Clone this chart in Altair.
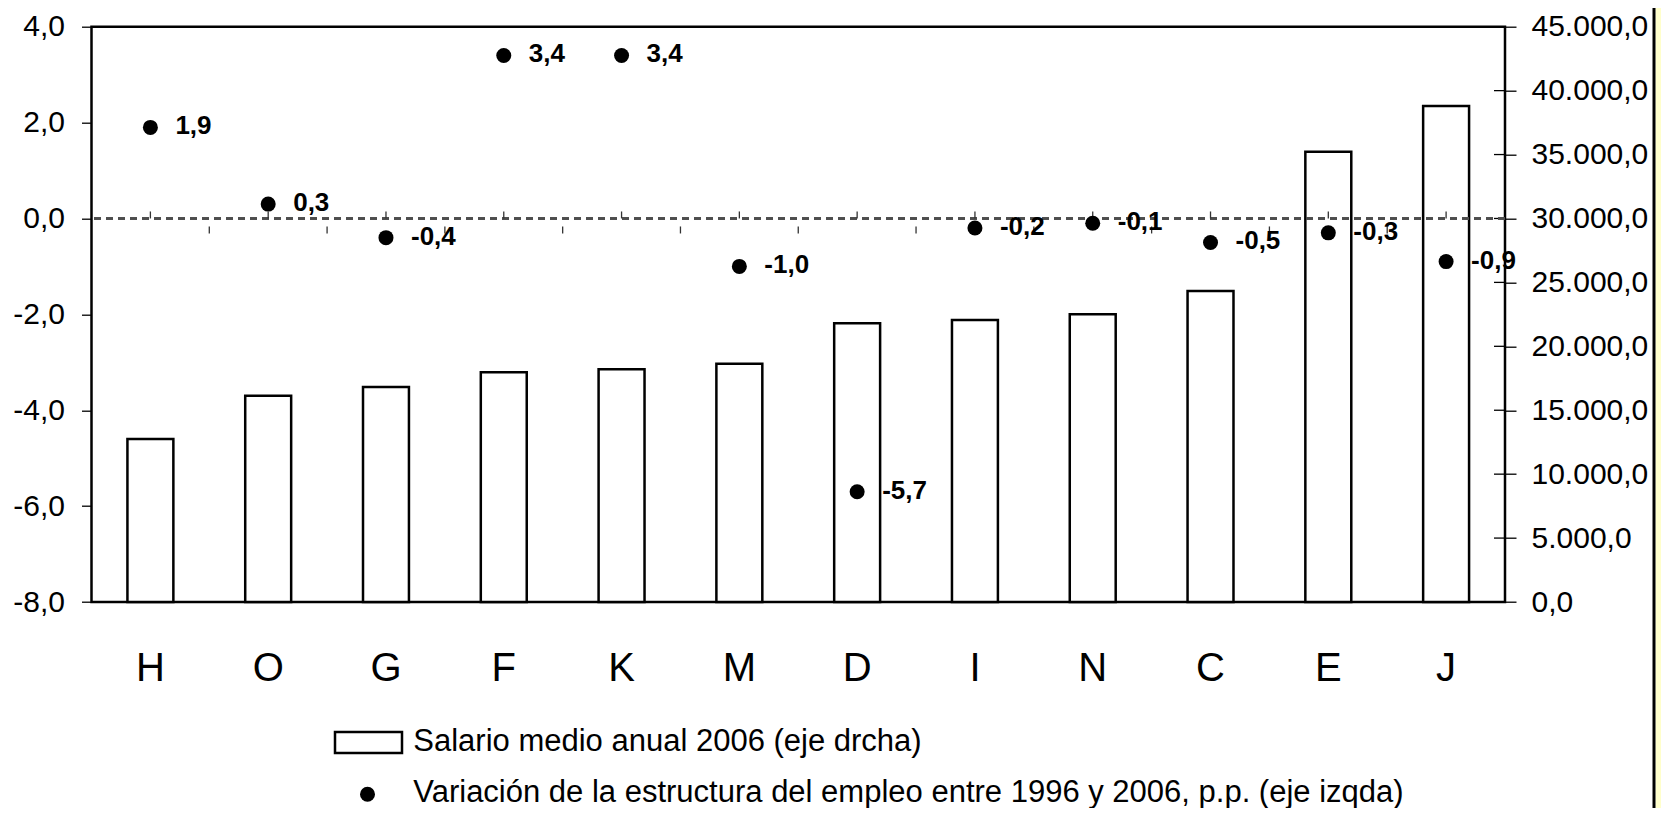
import altair as alt
import pandas as pd

# ---- data ----
categories = ["H", "O", "G", "F", "K", "M", "D", "I", "N", "C", "E", "J"]
salario = [12750, 16140, 16820, 17970, 18200, 18640, 21800, 22060, 22500, 24330, 35220, 38800]
variacion = [1.9, 0.3, -0.4, 3.4, 3.4, -1.0, -5.7, -0.2, -0.1, -0.5, -0.3, -0.9]
left_ticks = [-8, -6, -4, -2, 0, 2, 4]
right_ticks = [0, 5000, 10000, 15000, 20000, 25000, 30000, 35000, 40000, 45000]
legend_labels = [
    "Salario medio anual 2006 (eje drcha)",
    "Variación de la estructura del empleo entre 1996 y 2006, p.p. (eje izqda)",
]

FONT = "Liberation Sans"
W, H = 1413.5, 575.3
PAD_L, PAD_T, PAD_R, PAD_B = 83.5, 18.7, 156, 206

df = pd.DataFrame({"cat": categories, "salario": salario, "variacion": variacion, "z": [0] * len(categories)})
bdf = pd.DataFrame({"cat": categories[1:], "z": [0] * (len(categories) - 1)})

x_axis = alt.Axis(title=None, labelFontSize=40, labelFont=FONT, labelColor="black", labelAngle=0,
                  ticks=False, domain=False, labelPadding=46, labelBaseline="top", grid=False)
x_scale = alt.Scale(paddingInner=0, paddingOuter=0)
x_enc = alt.X("cat:N", sort=categories, scale=x_scale, axis=x_axis)

right_scale = alt.Scale(domain=[0, 45000], nice=False, zero=True)
right_axis = alt.Axis(orient="right", values=right_ticks, format=",.1f", title=None, tickSize=11,
                      labelPadding=15, labelFontSize=30, labelFont=FONT, labelColor="black",
                      grid=False, domain=False, tickColor="black", tickWidth=1.3)
left_scale = alt.Scale(domain=[-8, 4], nice=False, zero=False)
left_axis = alt.Axis(orient="left", values=left_ticks, format=".1f", title=None, tickSize=10,
                     labelPadding=17, labelFontSize=30, labelFont=FONT, labelColor="black",
                     grid=False, domain=False, tickColor="black", tickWidth=1.3)

bars = alt.Chart(df).mark_bar(width=alt.RelativeBandSize(band=0.39), fill="white", stroke="black",
                              strokeWidth=2.5).encode(
    x=x_enc,
    y=alt.Y("salario:Q", scale=right_scale, axis=right_axis),
)
rticks = alt.Chart(pd.DataFrame({"v": right_ticks})).mark_rule(color="black", strokeWidth=1.3).encode(
    y=alt.Y("v:Q", scale=right_scale, axis=right_axis),
    x=alt.value(W - 11), x2=alt.value(W),
)
right_group = alt.layer(bars, rticks)

zero = alt.Chart(df).mark_rule(stroke="#4d4d4d", strokeWidth=1.5, strokeDash=[7, 5]).encode(
    y=alt.Y("z:Q", scale=left_scale, axis=left_axis),
)
cticks = alt.Chart(df).mark_rule(color="#333333", strokeWidth=1.3, y2Offset=-7).encode(
    x=x_enc,
    y=alt.Y("z:Q", scale=left_scale, axis=left_axis), y2="z:Q",
)
bticks = alt.Chart(bdf).mark_rule(color="#333333", strokeWidth=1.3, yOffset=8, y2Offset=15).encode(
    x=alt.X("cat:N", sort=categories, scale=x_scale, axis=x_axis, bandPosition=0),
    y=alt.Y("z:Q", scale=left_scale, axis=left_axis), y2="z:Q",
)
dots = alt.Chart(df).mark_circle(size=225, color="black", opacity=1).encode(
    x=x_enc,
    y=alt.Y("variacion:Q", scale=left_scale, axis=left_axis),
)
labels = alt.Chart(df).mark_text(align="left", baseline="middle", dx=25, dy=-1, fontSize=26,
                                 fontWeight="bold", font=FONT, color="black").encode(
    x=x_enc,
    y=alt.Y("variacion:Q", scale=left_scale, axis=left_axis),
    text=alt.Text("variacion:Q", format=".1f"),
)

ldf1 = pd.DataFrame({"l": [legend_labels[0]]})
ldf2 = pd.DataFrame({"l": [legend_labels[1]]})
leg_rect = alt.Chart(ldf1).mark_rect(fill="white", stroke="black", strokeWidth=2.5).encode(
    x=alt.value(243.5), x2=alt.value(310.5), y=alt.value(705.3), y2=alt.value(726.3))
leg_t1 = alt.Chart(ldf1).mark_text(align="left", baseline="middle", fontSize=31, font=FONT,
                                   color="black").encode(
    x=alt.value(321.8), y=alt.value(715), text="l:N")
leg_dot = alt.Chart(ldf2).mark_circle(size=225, color="black", opacity=1).encode(
    x=alt.value(276), y=alt.value(767.5))
leg_t2 = alt.Chart(ldf2).mark_text(align="left", baseline="middle", fontSize=31, font=FONT,
                                   color="black").encode(
    x=alt.value(321.8), y=alt.value(766), text="l:N")

# pale yellow slide border at the far right, kept inside the SVG
x_end = W + PAD_R
y_top = -PAD_T
y_bot = H + PAD_B
edge = pd.DataFrame({"e": [1]})
strip = alt.Chart(edge).mark_rect(fill="#FFFFCC").encode(
    x=alt.value(1564), x2=alt.value(x_end), y=alt.value(y_top), y2=alt.value(y_bot))
strip_line = alt.Chart(edge).mark_rule(color="black", strokeWidth=3).encode(
    x=alt.value(1562.5), y=alt.value(y_top), y2=alt.value(y_bot))

left_group = alt.layer(zero, cticks, bticks, dots, labels, leg_rect, leg_t1, leg_dot, leg_t2,
                       strip, strip_line)

chart = alt.layer(right_group, left_group).resolve_scale(y="independent").properties(
    width=W, height=H,
    padding={"left": PAD_L, "top": PAD_T, "right": PAD_R, "bottom": PAD_B},
    autosize=alt.AutoSizeParams(type="none"),
).configure(
    locale=alt.Locale(number=alt.NumberLocale(decimal=",", thousands=".", grouping=[3],
                                              currency=["", " €"], minus="-"))
).configure_view(stroke="black", strokeWidth=2.5)

chart.save("out.html", embed_options={"renderer": "svg", "actions": False})
